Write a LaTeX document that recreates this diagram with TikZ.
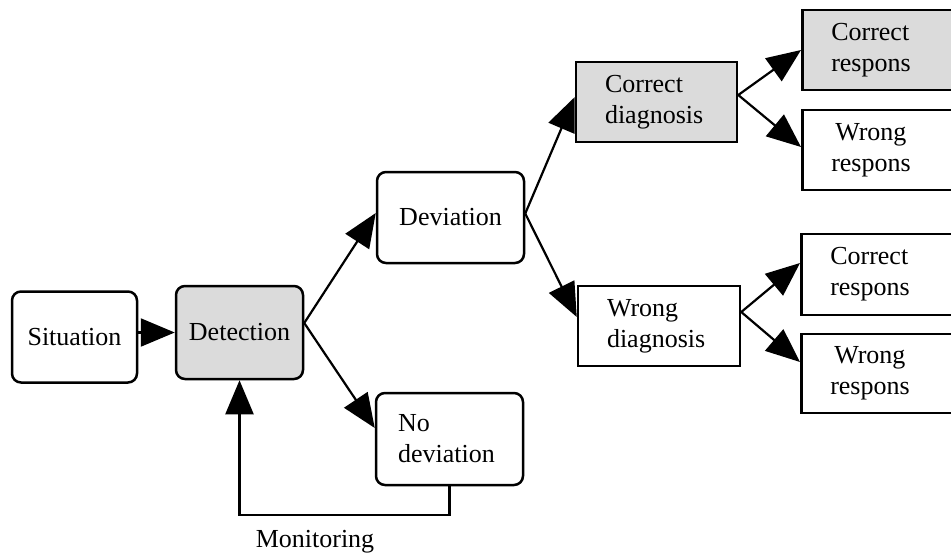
\documentclass[tikz,border=0pt]{standalone}
\usepackage{fontspec}
\setmainfont{Liberation Serif}
\usetikzlibrary{arrows.meta}
\tikzset{
  box/.style={draw=black, line width=1.25pt, font=\fontsize{13}{15.5}\selectfont},
  rbox/.style={box, rounded corners=4.5pt},
  shade/.style={fill=black!14},
  multi/.style={align=left, inner xsep=14.5pt, text width=#1},
  arr/.style={line width=1.1pt, -{Triangle[length=17pt,width=14pt]}},
}
\begin{document}
\begin{tikzpicture}[x=0.5pt,y=-0.5pt]
\useasboundingbox (0,0) rectangle (951,553);
\clip (0,0) rectangle (951,553);
% nodes
\node[rbox, minimum width=62.5pt, minimum height=45.5pt, align=center] (sit) at (74.5,337) {Situation};
\node[rbox, shade, minimum width=63.5pt, minimum height=46.5pt, align=center] (det) at (239.5,332.5) {Detection};
\node[rbox, minimum width=73.5pt, minimum height=45.5pt, align=center] (dev) at (450.5,217.5) {Deviation};
\node[rbox, minimum height=46pt, align=left, inner xsep=11pt, text width=51.5pt] (nodev) at (449.5,439) {No\\deviation};
\node[box, shade, minimum height=40pt, multi=51.5pt] (cdiag) at (656.5,102) {Correct\\diagnosis};
\node[box, minimum height=40pt, multi=52pt] (wdiag) at (659,326) {Wrong\\diagnosis};
\node[box, shade, minimum height=40pt, multi=50.5pt, anchor=west] (cr1) at (801,50) {Correct\\respons};
\node[box, minimum height=40pt, multi=50.5pt, anchor=west] (wr1) at (801,150) {\hspace*{2pt}Wrong\\respons};
\node[box, minimum height=40.5pt, multi=50.5pt, anchor=west] (cr2) at (800,274.5) {Correct\\respons};
\node[box, minimum height=39.5pt, multi=50.5pt, anchor=west] (wr2) at (800,373.5) {\hspace*{2pt}Wrong\\respons};
\node[font=\fontsize{13}{15.5}\selectfont, anchor=base] (mon) at (315,547) {Monitoring};
% connectors
\draw[arr] (sit.east |- det.west) -- (det.west);
\draw[arr] ([yshift=4.75pt]det.east) -- ([yshift=2.25pt]dev.west);
\draw[arr] ([yshift=4.75pt]det.east) -- ([yshift=5.5pt]nodev.west);
\draw[arr] ([yshift=2pt]dev.east) -- ([yshift=2.5pt]cdiag.west);
\draw[arr] ([yshift=2pt]dev.east) -- ([yshift=4.5pt]wdiag.west);
\draw[arr] ([yshift=3.5pt]cdiag.east) -- (cr1.west);
\draw[arr] ([yshift=3.5pt]cdiag.east) -- ([yshift=1.5pt]wr1.west);
\draw[arr] ([yshift=7pt]wdiag.east) -- ([yshift=5.75pt]cr2.west);
\draw[arr] ([yshift=7pt]wdiag.east) -- ([yshift=5.75pt]wr2.west);
\draw[arr] (nodev.south) -- ++(0,29) -| (det.south);
\end{tikzpicture}
\end{document}
